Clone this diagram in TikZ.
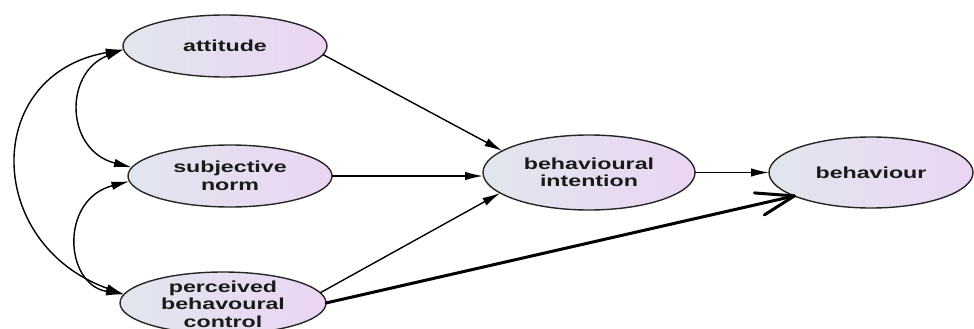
\documentclass[tikz,border=0pt]{standalone}
\usepackage{fontspec}
\newfontfamily\lblfont{Liberation Sans}[FakeStretch=1.45]
\usetikzlibrary{shapes.geometric,arrows.meta,calc}
\definecolor{elleft}{HTML}{E1E6EE}
\definecolor{elright}{HTML}{EBD5F3}
\definecolor{txt}{HTML}{1A1A1A}
\begin{document}
\begin{tikzpicture}[x=1pt,y=-1pt,
  latent/.style={ellipse, draw=black!85, line width=1.4pt, left color=elleft, right color=elright, inner sep=0pt, outer sep=0pt},
  lbl/.style={font=\lblfont\bfseries\fontsize{16}{17.5}\selectfont, text=txt, align=center, inner sep=0pt},
  regarrow/.style={line width=1.4pt, -{Latex[length=18pt,width=8.5pt]}},
  cov/.style={line width=1.4pt, {Latex[length=18pt,width=8.5pt]}-{Latex[length=18pt,width=8.5pt]}},
  thickarrow/.style={line width=3pt, line cap=round, line join=round},
]
\useasboundingbox (0,0) rectangle (974,329);

\node[latent, minimum width=204pt, minimum height=62pt] (att) at (225,46) {};
\node[lbl] (attT) at (att.center) {attitude};

\node[latent, minimum width=204pt, minimum height=62pt] (sn) at (230,176) {};
\node[lbl] (snT) at (sn.center) {subjective\\norm};

\node[latent, minimum width=206pt, minimum height=62pt] (pbc) at (223,303) {};
\node[lbl] (pbcT) at ($(pbc.center)+(0,1)$) {perceived\\behavoural\\control};

\node[latent, minimum width=212pt, minimum height=75pt] (bi) at (589,172.5) {};
\node[lbl] (biT) at (bi.center) {behavioural\\intention};

\node[latent, minimum width=204pt, minimum height=71pt] (beh) at (871,172.5) {};
\node[lbl] (behT) at (beh.center) {behaviour};

% covariances
\draw[cov] (att.182) .. controls +(-60,23) and +(-67,-17) .. (sn.175);
\draw[cov] (sn.183) .. controls +(-70,18) and +(-60,-10) .. (pbc.175);
\draw[cov] (att.182) .. controls +(-142,25) and +(-140,-50) .. (pbc.175);

% regressions
\draw[regarrow] (att.-5) -- (bi.166);
\draw[regarrow] (sn.east) -- (sn.east -| bi.west);
\draw[regarrow] (pbc.6) -- (bi.193.4);
\draw[regarrow] (bi.east) -- (beh.west);

% hand-drawn thick arrow
\coordinate (tip) at (beh.197);
\draw[thickarrow] (pbc.east) -- (tip);
\draw[thickarrow] ($(tip)+(-40,-3)$) -- (tip) -- ($(tip)+(-30,19)$);
\end{tikzpicture}
\end{document}
